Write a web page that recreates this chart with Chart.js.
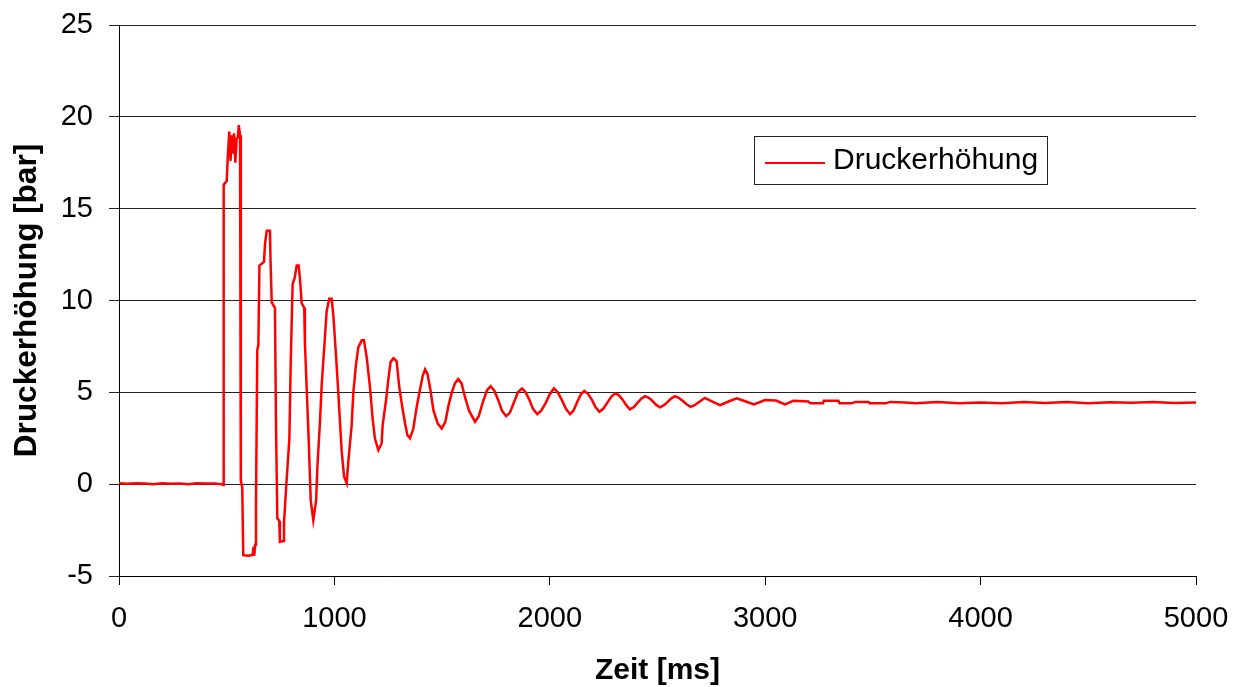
<!DOCTYPE html>
<html>
<head>
<meta charset="utf-8">
<script src="https://cdn.jsdelivr.net/npm/chart.js@4.4.1/dist/chart.umd.min.js"></script>
<style>
  html, body { margin: 0; padding: 0; background: #fff; }
  #wrap { width: 1242px; height: 687px; }
</style>
</head>
<body>
<div id="wrap"><canvas id="chart" width="1242" height="687"></canvas></div>
<script>
// Zeit in ms
const timeMs = [
  0, 40, 80, 120, 160, 200, 240, 280, 320, 360, 400, 440, 478, 484,
  486, 500, 505, 512, 518, 522, 528, 534, 540, 546, 552, 556, 562, 565,
  566, 572, 577, 600, 620, 625, 628, 632, 636, 642, 647, 652, 673, 678, 686, 701,
  703, 709, 724, 729, 735, 744, 747, 763, 766, 778, 791, 797, 806, 815, 825, 834,
  840, 848, 860, 863, 871, 881, 890, 902, 915, 921, 933, 941, 952, 964, 976, 987,
  995, 1007, 1018, 1034, 1045, 1057, 1065, 1080, 1088, 1100, 1111, 1127, 1137, 1150,
  1165, 1178, 1188, 1204, 1219, 1224, 1240, 1250, 1261, 1274, 1289, 1301, 1315, 1328,
  1339, 1351, 1366, 1382, 1398, 1410, 1421, 1432, 1445, 1460, 1480, 1498, 1515, 1530,
  1545, 1560, 1575, 1590, 1605, 1625, 1653, 1670, 1690, 1708, 1725, 1742, 1760, 1778,
  1797, 1815, 1835, 1852, 1871, 1888, 1905, 1922, 1942, 1960, 1980, 2000, 2019, 2037,
  2055, 2075, 2094, 2110, 2128, 2145, 2160, 2178, 2195, 2212, 2230, 2248, 2265, 2285,
  2303, 2320, 2338, 2355, 2372, 2390, 2405, 2425, 2442, 2460, 2475, 2495, 2512, 2530,
  2545, 2562, 2581, 2598, 2615, 2635, 2654, 2672, 2690, 2720, 2755, 2790, 2830, 2868,
  2910, 2948, 2999, 3050, 3092, 3131, 3200, 3210, 3268, 3272, 3340, 3345, 3400, 3420,
  3480, 3485, 3560, 3580, 3650, 3700, 3800, 3900, 4000, 4100, 4200, 4300, 4400, 4500,
  4600, 4700, 4800, 4900, 5000
];

// Druckerhöhung in bar
const pressureBar = [
  0.05, 0.02, 0.05, 0.03, 0.0, 0.05, 0.02, 0.04, 0.0, 0.05, 0.03, 0.04, 0.0, -0.05,
  16.3, 16.5, 17.8, 19.2, 17.6, 19.0, 18.0, 19.1, 17.5, 18.8, 18.9, 19.55, 19.0, 18.9,
  0.2, -0.15, -3.87, -3.9, -3.85, -3.4, -3.9, -3.3, -1.0, 7.3, 7.6, 11.9, 12.1, 13.1, 13.8, 13.8,
  12.4, 9.9, 9.6, 3.1, -1.86, -2.0, -3.14, -3.1, -2.1, 0.2, 2.5, 6.5, 10.9, 11.2, 11.9, 11.9,
  11.2, 9.85, 9.6, 7.75, 5.3, 2.3, -0.87, -1.96, -0.9, 0.94, 3.4, 5.4, 7.3, 9.4, 10.1, 10.1,
  9.2, 7.1, 5.0, 1.76, 0.4, 0.05, 1.3, 3.2, 5.0, 6.5, 7.45, 7.84, 7.84, 6.9,
  5.3, 3.5, 2.5, 1.85, 2.2, 3.2, 4.6, 5.66, 6.66, 6.85, 6.7, 5.3, 4.2, 3.3,
  2.67, 2.5, 3.0, 4.2, 5.2, 5.9, 6.25, 6.0, 5.2, 4.0, 3.3, 3.03, 3.4, 4.3,
  5.0, 5.5, 5.72, 5.5, 4.8, 4.0, 3.4, 3.7, 4.5, 5.1, 5.34, 5.1, 4.6, 4.0,
  3.7, 3.9, 4.5, 5.0, 5.21, 5.0, 4.6, 4.1, 3.81, 4.0, 4.4, 4.9, 5.21, 5.0,
  4.6, 4.1, 3.81, 4.0, 4.5, 4.9, 5.08, 4.9, 4.6, 4.2, 3.94, 4.1, 4.4, 4.75,
  4.94, 4.85, 4.6, 4.3, 4.07, 4.2, 4.4, 4.65, 4.79, 4.7, 4.55, 4.3, 4.18, 4.3,
  4.45, 4.65, 4.79, 4.7, 4.55, 4.35, 4.21, 4.3, 4.45, 4.7, 4.5, 4.3, 4.5, 4.67,
  4.5, 4.34, 4.58, 4.55, 4.34, 4.54, 4.5, 4.4, 4.4, 4.54, 4.54, 4.4, 4.4, 4.48,
  4.48, 4.4, 4.4, 4.48, 4.45, 4.4, 4.47, 4.4, 4.45, 4.4, 4.47, 4.42, 4.47, 4.4,
  4.46, 4.43, 4.47, 4.42, 4.45
];

const xTicks = [0, 1000, 2000, 3000, 4000, 5000];
const yTicks = [-5, 0, 5, 10, 15, 20, 25];

const seriesLabel = 'Druckerhöhung';
const fontFamily = '"Liberation Sans", Arial, sans-serif';

// legend box drawn inside the plot, like the original
const boxLegend = {
  id: 'boxLegend',
  afterDraw(chart) {
    const ctx = chart.ctx;
    const ds = chart.data.datasets[0];
    ctx.save();
    ctx.fillStyle = '#fff';
    ctx.fillRect(754, 136, 294, 48);
    ctx.strokeStyle = '#222';
    ctx.lineWidth = 1;
    ctx.strokeRect(754.5, 136.5, 293, 48);
    ctx.strokeStyle = ds.borderColor;
    ctx.lineWidth = 2;
    ctx.beginPath();
    ctx.moveTo(765, 163);
    ctx.lineTo(825, 163);
    ctx.stroke();
    ctx.fillStyle = '#000';
    ctx.font = '30px ' + fontFamily;
    ctx.textBaseline = 'middle';
    ctx.fillText(ds.label, 833, 161);
    ctx.restore();
  }
};

new Chart(document.getElementById('chart').getContext('2d'), {
  type: 'line',
  data: {
    datasets: [{
      label: seriesLabel,
      data: timeMs.map((t, i) => ({ x: t, y: pressureBar[i] })),
      borderColor: '#ff0000',
      borderWidth: 2.5,
      pointRadius: 0,
      tension: 0,
      fill: false
    }]
  },
  options: {
    responsive: false,
    animation: false,
    layout: { padding: { top: 25, right: 46, bottom: 0, left: 0 } },
    plugins: { legend: { display: false }, tooltip: { enabled: false } },
    scales: {
      x: {
        type: 'linear',
        min: 0,
        max: 5000,
        afterBuildTicks: (axis) => { axis.ticks = xTicks.map(v => ({ value: v })); },
        afterFit: (axis) => {
          axis.height = 111;
          axis.paddingLeft = 0;
          axis.paddingRight = 0;
        },
        grid: { drawOnChartArea: false, drawTicks: true, tickLength: 9, color: '#000' },
        border: { color: '#000', width: 1 },
        ticks: {
          color: '#000',
          font: { family: fontFamily, size: 29 },
          padding: 17,
          maxRotation: 0,
          callback: (v) => String(v)
        },
        title: {
          display: true,
          text: 'Zeit [ms]',
          color: '#000',
          font: { family: fontFamily, size: 30, weight: 'bold', lineHeight: 1 },
          padding: { top: 0, bottom: 1 }
        }
      },
      y: {
        min: -5,
        max: 25,
        afterBuildTicks: (axis) => { axis.ticks = yTicks.map(v => ({ value: v })); },
        afterFit: (axis) => {
          axis.width = 119;
          axis.paddingTop = 0;
          axis.paddingBottom = 0;
        },
        grid: { color: '#222', lineWidth: 1, drawTicks: true, tickLength: 10 },
        border: { color: '#000', width: 1 },
        ticks: {
          color: '#000',
          font: { family: fontFamily, size: 29 },
          padding: 16,
          callback: (v) => String(v)
        },
        title: {
          display: true,
          text: 'Druckerhöhung [bar]',
          color: '#000',
          font: { family: fontFamily, size: 31.5, weight: 'bold', lineHeight: 1 },
          padding: { top: 12, bottom: 0 }
        }
      }
    }
  },
  plugins: [boxLegend]
});
</script>
</body>
</html>
